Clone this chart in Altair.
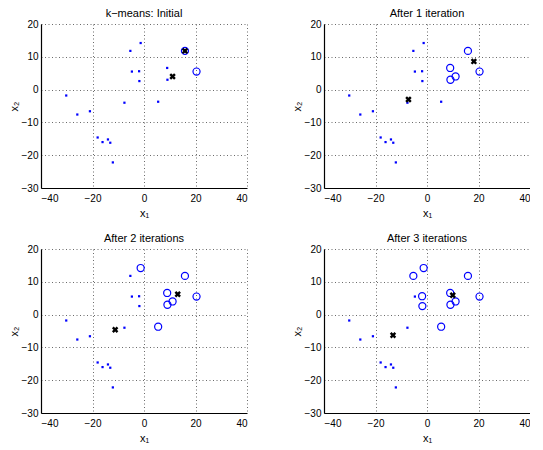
import altair as alt
import pandas as pd

# data points (same in every panel)
px = [-30.2, -25.9, -21.0, -18.0, -16.1, -14.0, -13.1, -12.1, -7.6, -5.3,
      -4.7, -1.9, -1.8, -1.3, 5.5, 9.0, 9.1, 11.1, 15.9, 20.4]
py = [-1.8, -7.6, -6.6, -14.6, -16.0, -15.2, -16.2, -22.2, -4.0, 11.8,
      5.5, 5.6, 2.6, 14.2, -3.7, 6.6, 3.0, 4.0, 11.8, 5.5]

titles = ["k\u2212means: Initial", "After 1 iteration", "After 2 iterations", "After 3 iterations"]

# cluster membership per panel (1 = open circle cluster)
member_0 = [0] * 18 + [1, 1]
member_1 = [0] * 15 + [1, 1, 1, 1, 1]
member_2 = [0] * 13 + [1, 1, 1, 1, 1, 1, 1]
member_3 = [0] * 9 + [1, 0, 1, 1, 1, 1, 1, 1, 1, 1, 1]
members = [member_0, member_1, member_2, member_3]

# centroids per panel
cx = [[15.9, 11.1], [-7.2, 18.2], [-11.2, 13.1], [-13.2, 10.0]]
cy = [[11.8, 4.0], [-3.0, 8.6], [-4.6, 6.2], [-6.3, 5.9]]

x_ticks = [-40, -20, 0, 20, 40]
y_ticks = [-30, -20, -10, 0, 10, 20]

W, H = 206, 164
BLUE = "#0000ff"


def panel(i):
    df = pd.DataFrame({"x": px, "y": py, "m": members[i]})
    cdf = pd.DataFrame({"x": cx[i], "y": cy[i]})
    xenc = alt.X("x:Q", scale=alt.Scale(domain=[-40, 40], nice=False),
                 axis=alt.Axis(values=x_ticks, title="x\u2081", labelPadding=5, titlePadding=4))
    yenc = alt.Y("y:Q", scale=alt.Scale(domain=[-30, 20], nice=False),
                 axis=alt.Axis(values=y_ticks, title="x\u2082", labelPadding=3, titlePadding=2))
    dots = alt.Chart(df).transform_filter("datum.m == 0").mark_point(
        shape="square", filled=True, size=5, color=BLUE, opacity=1
    ).encode(x=xenc, y=yenc)
    circ = alt.Chart(df).transform_filter("datum.m == 1").mark_point(
        shape="circle", filled=False, size=50, color=BLUE, strokeWidth=1.2, opacity=1
    ).encode(x=xenc, y=yenc)
    cent = alt.Chart(cdf).mark_point(
        shape="M-1,-1L1,1M1,-1L-1,1", filled=False, size=22, color="black",
        strokeWidth=2.4, opacity=1
    ).encode(x=xenc, y=yenc)
    return alt.layer(dots, circ, cent).properties(
        width=W, height=H,
        title=alt.TitleParams(titles[i], fontSize=11, font="Liberation Sans",
                              fontWeight="normal", offset=0, color="black"),
    )


chart = alt.concat(panel(0), panel(1), panel(2), panel(3), columns=2,
                   spacing={"row": 61, "column": 77}, bounds="flush").properties(
    padding={"left": 0, "top": 0, "right": 0, "bottom": 0}
).configure_view(stroke=None).configure_axis(
    domainColor="black", domainWidth=1.2, ticks=False,
    grid=True, gridColor="black", gridDash=[1, 2.5], gridOpacity=0.65, gridWidth=0.9,
    labelFont="Liberation Sans", labelFontSize=10, labelColor="black",
    titleFont="Liberation Sans", titleFontSize=11, titleFontWeight="normal",
    titleColor="black",
)

chart.save("out.html", embed_options={"renderer": "svg", "actions": False})
